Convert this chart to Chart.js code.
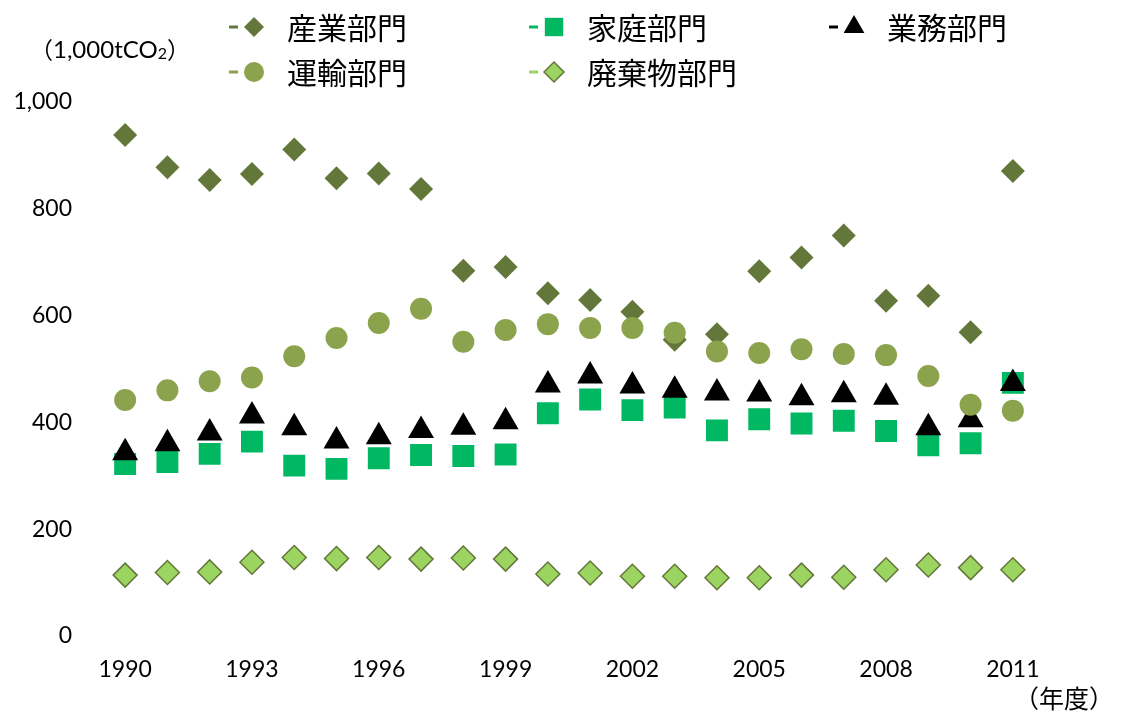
<!DOCTYPE html>
<html lang="ja">
<head>
<meta charset="utf-8">
<title>部門別CO2排出量</title>
<script src="https://cdn.jsdelivr.net/npm/chart.js@4.4.0/dist/chart.umd.min.js"></script>
<style>
  html, body { margin: 0; padding: 0; background: #fff; }
  #wrap { position: relative; width: 1121px; height: 718px; }
</style>
</head>
<body>
<div id="wrap"><canvas id="co2Chart" width="1121" height="718"></canvas></div>
<script>
// 年度
const years = ["1990", "1991", "1992", "1993", "1994", "1995", "1996", "1997", "1998", "1999", "2000",
  "2001", "2002", "2003", "2004", "2005", "2006", "2007", "2008", "2009", "2010", "2011"];

// 排出量 (1,000tCO2)
const industry = [938, 878, 854, 865, 911, 857, 866, 837, 684, 691, 642, 629, 607, 555, 565, 683, 709, 750, 628, 637, 569, 871];
const household = [322, 326, 341, 364, 319, 313, 333, 339, 337, 340, 417, 443, 423, 428, 385, 406, 398, 403, 384, 357, 361, 474];
const business = [343, 360, 380, 412, 390, 365, 373, 385, 391, 401, 470, 487, 468, 460, 455, 453, 446, 452, 447, 390, 405, 473];
const transport = [442, 460, 477, 484, 524, 558, 586, 613, 551, 573, 584, 577, 577, 568, 533, 530, 537, 528, 526, 487, 433, 422];
const waste = [114, 119, 120, 138, 147, 145, 147, 144, 146, 144, 116, 118, 112, 112, 109, 109, 114, 110, 124, 133, 128, 124];

const yTicks = [0, 200, 400, 600, 800, 1000];

const OLIVE = "#63773a";
const LIGHT_OLIVE = "#8ba34c";
const GREEN = "#00b862";
const LIGHT_GREEN = "#9cd461";

// legend slots: [column, row]
const legendSlots = [[0, 0], [1, 0], [2, 0], [0, 1], [1, 1]];

function drawMarker(ctx, style, x, y, r, fill, stroke, lw) {
  ctx.save();
  ctx.beginPath();
  if (style === "rectRot") {
    ctx.moveTo(x - r, y);
    ctx.lineTo(x, y - r);
    ctx.lineTo(x + r, y);
    ctx.lineTo(x, y + r);
    ctx.closePath();
  } else if (style === "rect") {
    const s = r * Math.SQRT1_2;
    ctx.rect(x - s, y - s, 2 * s, 2 * s);
  } else if (style === "triangle") {
    ctx.moveTo(x, y - r);
    ctx.lineTo(x + r * 0.866, y + r / 2);
    ctx.lineTo(x - r * 0.866, y + r / 2);
    ctx.closePath();
  } else {
    ctx.arc(x, y, r, 0, Math.PI * 2);
  }
  ctx.fillStyle = fill;
  ctx.fill();
  if (lw) {
    ctx.strokeStyle = stroke;
    ctx.lineWidth = lw;
    ctx.stroke();
  }
  ctx.restore();
}

const textPlugin = {
  id: "textPlugin",
  afterDraw(chart) {
    const ctx = chart.ctx;
    ctx.save();

    // legend
    const cols = [287, 587, 887];
    const rows = [27, 72];
    chart.data.datasets.forEach(function (ds, i) {
      const x = cols[legendSlots[i][0]];
      const y = rows[legendSlots[i][1]];
      ctx.strokeStyle = ds.backgroundColor;
      ctx.lineWidth = 3;
      ctx.beginPath();
      ctx.moveTo(x - 58, y);
      ctx.lineTo(x - 49, y);
      ctx.stroke();
      const r = ds.pointStyle === "rect" ? 13 : ds.pointStyle === "triangle" ? 12 : 10;
      drawMarker(ctx, ds.pointStyle, x - 33, y, r, ds.backgroundColor, ds.borderColor, ds.borderWidth);
      ctx.fillStyle = "#000";
      ctx.font = '30px "Noto Sans CJK JP"';
      ctx.textAlign = "left";
      ctx.textBaseline = "middle";
      ctx.fillText(ds.label, x, y + 1);
    });

    // unit labels
    ctx.fillStyle = "#000";
    ctx.textBaseline = "middle";
    ctx.textAlign = "left";
    ctx.font = '23px "Noto Sans CJK JP"';
    let ux = 30;
    ctx.fillText("（", ux, 50);
    ux += ctx.measureText("（").width;
    ctx.font = '24px Lato';
    ctx.fillText("1,000tCO", ux, 50);
    ux += ctx.measureText("1,000tCO").width;
    ctx.font = '16px Lato';
    ctx.fillText("2", ux, 54);
    ux += ctx.measureText("2").width;
    ctx.font = '23px "Noto Sans CJK JP"';
    ctx.fillText("）", ux, 50);

    ctx.font = '25px "Noto Sans CJK JP"';
    ctx.textAlign = "right";
    ctx.fillText("（年度）", 1114, 698);
    ctx.restore();
  }
};

const ctx = document.getElementById("co2Chart").getContext("2d");
const co2Chart = new Chart(ctx, {
  type: "line",
  data: {
    labels: years,
    datasets: [
      { label: "産業部門", data: industry, pointStyle: "rectRot", pointRadius: 12, backgroundColor: OLIVE, borderColor: OLIVE, borderWidth: 0, order: 5 },
      { label: "家庭部門", data: household, pointStyle: "rect", pointRadius: 15.5, backgroundColor: GREEN, borderColor: GREEN, borderWidth: 0, order: 4 },
      { label: "業務部門", data: business, pointStyle: "triangle", pointRadius: 15, backgroundColor: "#000000", borderColor: "#000000", borderWidth: 0, order: 3 },
      { label: "運輸部門", data: transport, pointStyle: "circle", pointRadius: 11, backgroundColor: LIGHT_OLIVE, borderColor: LIGHT_OLIVE, borderWidth: 0, order: 2 },
      { label: "廃棄物部門", data: waste, pointStyle: "rectRot", pointRadius: 12, backgroundColor: LIGHT_GREEN, borderColor: OLIVE, borderWidth: 1.5, order: 1 }
    ]
  },
  options: {
    responsive: false,
    animation: false,
    events: [],
    showLine: false,
    layout: {
      padding: { top: 102, right: 87, bottom: 32, left: 0 }
    },
    plugins: {
      legend: { display: false },
      tooltip: { enabled: false }
    },
    scales: {
      x: {
        offset: true,
        grid: { display: false, drawTicks: false },
        border: { display: false },
        ticks: {
          autoSkip: false,
          maxRotation: 0,
          padding: 20,
          color: "#000",
          font: { family: "Lato", size: 23 },
          callback: function (value, index) {
            return index % 3 === 0 ? years[index] : "";
          }
        },
        afterFit: function (scale) { scale.height = 50; }
      },
      y: {
        min: 0,
        max: 1000,
        grid: { display: false, drawTicks: false },
        border: { display: false },
        afterBuildTicks: function (scale) {
          scale.ticks = yTicks.map(function (v) { return { value: v }; });
        },
        ticks: {
          padding: 32,
          color: "#000",
          font: { family: "Lato", size: 23 },
          callback: function (value) { return value.toLocaleString("en-US"); }
        },
        afterFit: function (scale) { scale.width = 104; }
      }
    }
  },
  plugins: [textPlugin]
});
</script>
</body>
</html>
